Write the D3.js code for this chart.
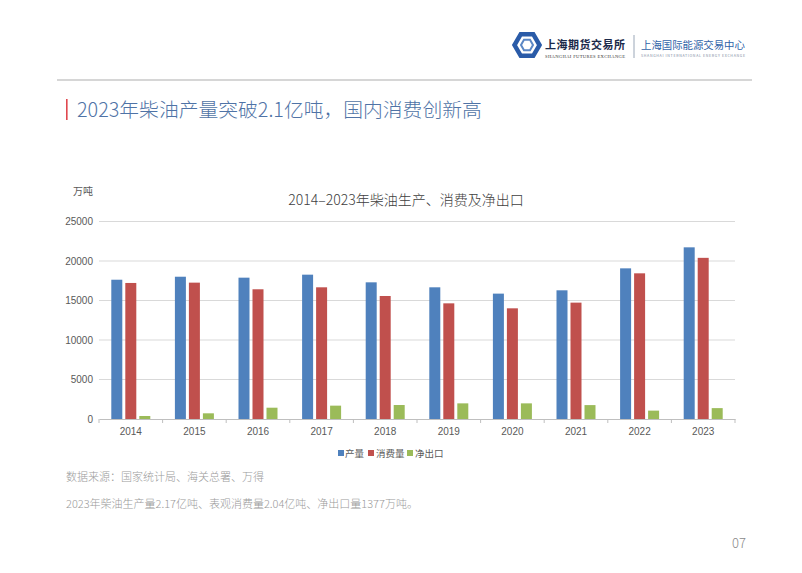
<!DOCTYPE html>
<html><head><meta charset="utf-8">
<script src="https://cdn.jsdelivr.net/npm/d3@7"></script>
<style>
html,body{margin:0;padding:0;background:#fff;}
svg text{font-family:"Noto Sans CJK SC","Noto Sans",sans-serif;}
</style></head>
<body><svg id="c" width="802" height="573"></svg>
<script>
const years = ["2014","2015","2016","2017","2018","2019","2020","2021","2022","2023"];
const production = [17630,18010,17890,18270,17300,16670,15870,16290,19070,21730];
const consumption = [17220,17260,16420,16670,15570,14640,14010,14730,18440,20400];
const netExport = [380,720,1430,1690,1770,1980,1980,1760,1060,1377];
const seriesNames = ["产量","消费量","净出口"];
const seriesColors = ["#4F81BD","#C0504D","#9BBB59"];
const yTicks = [0,5000,10000,15000,20000,25000];

const svg = d3.select("#c");

// header
svg.append("line").attr("x1",57).attr("x2",752).attr("y1",80).attr("y2",80)
  .attr("stroke","#d6d6d6").attr("stroke-width",2);

// logo icon (hexagon)
const logo = svg.append("g").attr("transform","translate(527,45)");
const hex = r => d3.range(6).map(i=>{const a=Math.PI/3*i;return [r*Math.cos(a),r*Math.sin(a)];});
logo.append("polygon").attr("points",hex(12.5).join(" ")).attr("fill","none").attr("stroke","#2a5ba8").attr("stroke-width",4.5);
logo.append("polygon").attr("points",hex(6).join(" ")).attr("fill","none").attr("stroke","#5b87c5").attr("stroke-width",2);
svg.append("text").attr("x",545).attr("y",49).attr("font-size",11).attr("font-weight",700)
  .attr("fill","#1c2a4a").attr("textLength",80).text("上海期货交易所");
svg.append("text").attr("x",545).attr("y",57.5).attr("font-size",4.6)
  .style("font-family","'Liberation Serif',serif").attr("fill","#333").attr("textLength",80).text("SHANGHAI FUTURES EXCHANGE");
svg.append("line").attr("x1",634).attr("x2",634).attr("y1",35).attr("y2",58).attr("stroke","#9aa7b8").attr("stroke-width",1);
svg.append("text").attr("x",641).attr("y",49).attr("font-size",10.4)
  .attr("fill","#2f62a8").text("上海国际能源交易中心");
svg.append("text").attr("x",641).attr("y",57).attr("font-size",3.6)
  .attr("fill","#7c8aa0").attr("textLength",104).text("SHANGHAI INTERNATIONAL ENERGY EXCHANGE");

// page title
svg.append("rect").attr("x",66).attr("y",99).attr("width",1.6).attr("height",21).attr("fill","#e0484f");
svg.append("text").attr("x",77).attr("y",117).attr("font-size",19.8).attr("font-weight",300)
  .attr("fill","#4f73a6").text("2023年柴油产量突破2.1亿吨，国内消费创新高");

// chart
const x0 = d3.scaleBand().domain(years).range([99,735]).paddingInner(0).paddingOuter(0);
const x1 = d3.scaleBand().domain(seriesNames).range([12.3,51.3]).paddingInner(3/14);
const y = d3.scaleLinear().domain([0,25000]).range([419,221.5]);

svg.append("text").attr("x",406).attr("y",205).attr("text-anchor","middle").attr("font-size",14).attr("font-weight",300)
  .attr("fill","#404040").text("2014–2023年柴油生产、消费及净出口");
svg.append("text").attr("x",73).attr("y",195).attr("font-size",10).attr("fill","#595959").text("万吨");

// grid
svg.append("g").selectAll("line").data(yTicks.filter(d=>d>0)).join("line")
  .attr("x1",99).attr("x2",735).attr("y1",d=>y(d)).attr("y2",d=>y(d))
  .attr("stroke","#d9d9d9").attr("stroke-width",1);

// y axis labels
const yAxis = d3.axisLeft(y).tickValues(yTicks).tickFormat(d3.format("d")).tickSize(0).tickPadding(6);
const gy = svg.append("g").attr("transform","translate(99,0)").call(yAxis);
gy.select(".domain").remove();
gy.selectAll("text").attr("font-size",10).attr("fill","#595959").style("font-family","'Liberation Sans','DejaVu Sans',sans-serif");

// bars
const data = years.map((yr,i)=>({yr,vals:[production[i],consumption[i],netExport[i]]}));
const grp = svg.append("g").selectAll("g").data(data).join("g")
  .attr("transform",d=>`translate(${x0(d.yr)},0)`);
grp.selectAll("rect").data(d=>d.vals.map((v,j)=>({v,name:seriesNames[j],c:seriesColors[j]}))).join("rect")
  .attr("x",d=>x1(d.name)).attr("width",x1.bandwidth())
  .attr("y",d=>y(d.v)).attr("height",d=>y(0)-y(d.v)).attr("fill",d=>d.c);

// x axis
const xAxis = d3.axisBottom(x0).tickSize(0).tickPadding(9);
const gx = svg.append("g").attr("transform","translate(0,419)").call(xAxis);
gx.select(".domain").attr("stroke","#bfbfbf");
gx.selectAll("text").attr("font-size",10).attr("fill","#595959").style("font-family","'Liberation Sans','DejaVu Sans',sans-serif");
svg.append("g").selectAll("line").data(d3.range(years.length+1)).join("line")
  .attr("x1",i=>99+i*x0.step()).attr("x2",i=>99+i*x0.step()).attr("y1",419).attr("y2",423)
  .attr("stroke","#bfbfbf");

// legend
const legX = [338,368,407];
const legTextX = [345,376,415];
const lg = svg.append("g");
seriesNames.forEach((n,i)=>{
  lg.append("rect").attr("x",legX[i]).attr("y",450).attr("width",6).attr("height",6).attr("fill",seriesColors[i]);
  lg.append("text").attr("x",legTextX[i]).attr("y",457).attr("font-size",9.5).attr("fill","#595959").text(n);
});

// footnotes
svg.append("text").attr("x",66).attr("y",481).attr("font-size",11).attr("font-weight",300).attr("fill","#9a9a9a")
  .text("数据来源：国家统计局、海关总署、万得");
svg.append("text").attr("x",66).attr("y",508).attr("font-size",11).attr("font-weight",300).attr("fill","#9a9a9a")
  .text("2023年柴油生产量2.17亿吨、表观消费量2.04亿吨、净出口量1377万吨。");
svg.append("text").attr("x",746).attr("y",548).attr("text-anchor","end").attr("font-size",13).attr("font-weight",300).attr("fill","#8a8a8a")
  .text("07");
</script></body></html>
